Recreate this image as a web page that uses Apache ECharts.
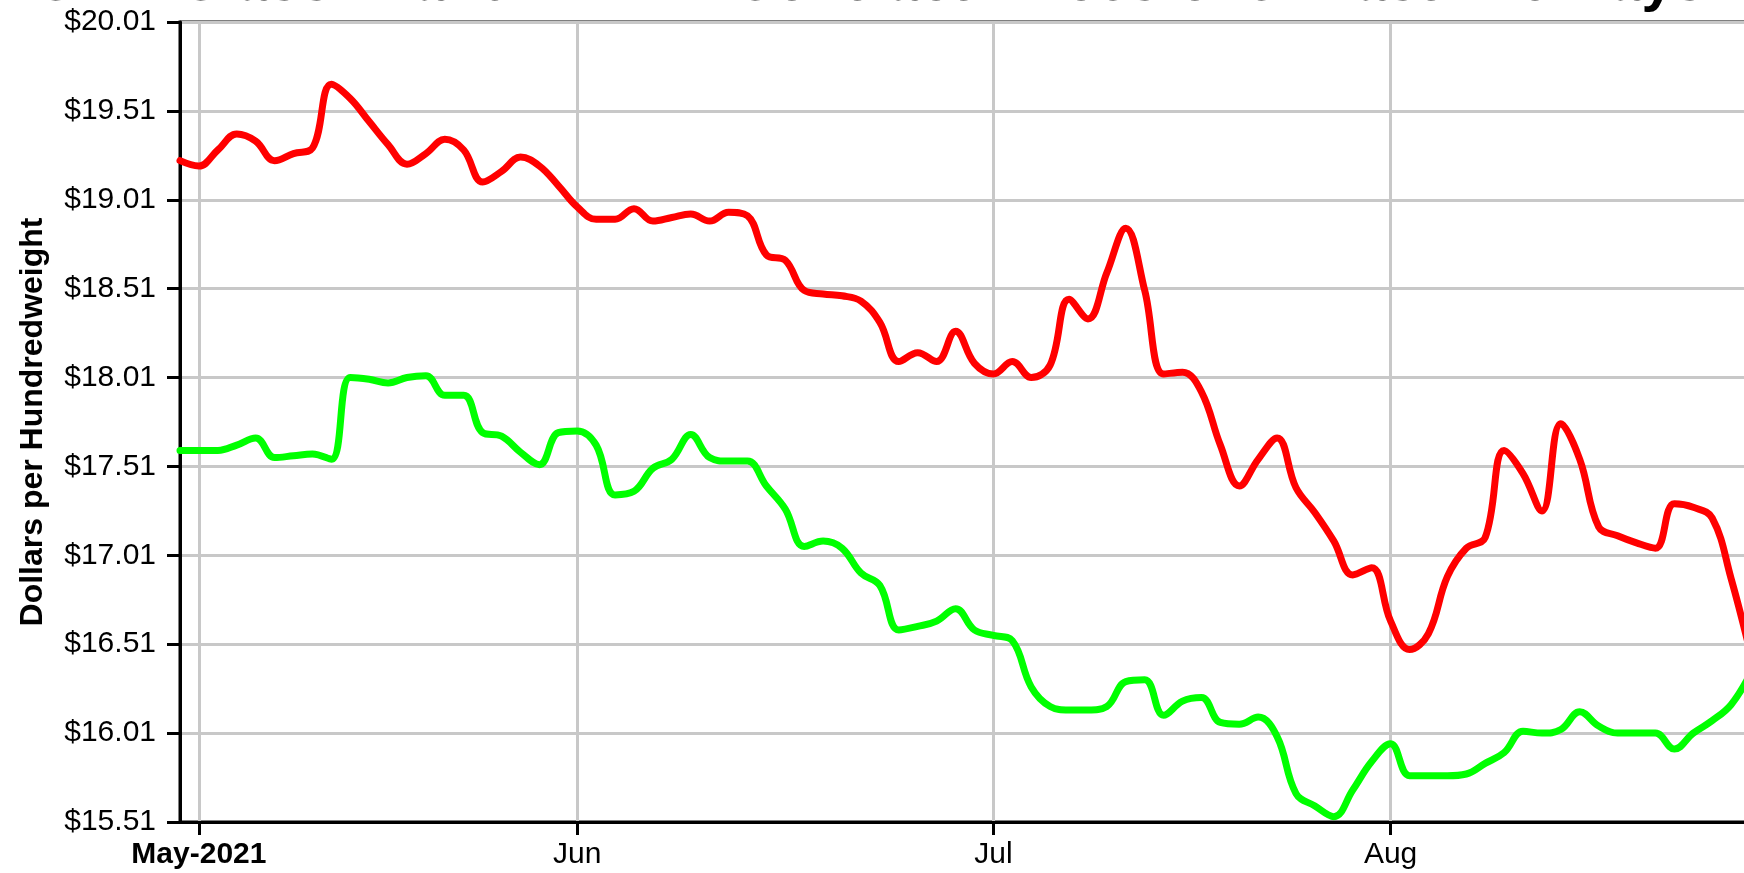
<!DOCTYPE html>
<html>
<head>
<meta charset="utf-8">
<title>Milk Contract Prices</title>
<script src="https://cdn.jsdelivr.net/npm/echarts@6/dist/echarts.min.js"></script>
<style>
	html,body{margin:0;padding:0;background:#fff;}
	#chart{width:1744px;height:873px;}
</style>
</head>
<body>
<div id="chart"></div>
<script>
// trading days shown on the axis (Apr 30 .. Aug 27, 2021)
var days = [
	'2021-04-30',
	'2021-05-03','2021-05-04','2021-05-05','2021-05-06','2021-05-07',
	'2021-05-10','2021-05-11','2021-05-12','2021-05-13','2021-05-14',
	'2021-05-17','2021-05-18','2021-05-19','2021-05-20','2021-05-21',
	'2021-05-24','2021-05-25','2021-05-26','2021-05-27','2021-05-28',
	'2021-06-01','2021-06-02','2021-06-03','2021-06-04',
	'2021-06-07','2021-06-08','2021-06-09','2021-06-10','2021-06-11',
	'2021-06-14','2021-06-15','2021-06-16','2021-06-17','2021-06-18',
	'2021-06-21','2021-06-22','2021-06-23','2021-06-24','2021-06-25',
	'2021-06-28','2021-06-29','2021-06-30',
	'2021-07-01','2021-07-02',
	'2021-07-06','2021-07-07','2021-07-08','2021-07-09',
	'2021-07-12','2021-07-13','2021-07-14','2021-07-15','2021-07-16',
	'2021-07-19','2021-07-20','2021-07-21','2021-07-22','2021-07-23',
	'2021-07-26','2021-07-27','2021-07-28','2021-07-29','2021-07-30',
	'2021-08-02','2021-08-03','2021-08-04','2021-08-05','2021-08-06',
	'2021-08-09','2021-08-10','2021-08-11','2021-08-12','2021-08-13',
	'2021-08-16','2021-08-17','2021-08-18','2021-08-19','2021-08-20',
	'2021-08-23','2021-08-24','2021-08-25','2021-08-26','2021-08-27'
];
// first trading day of each month -> label
var monthLabels = {
	'2021-05-03':'May-2021',
	'2021-06-01':'Jun',
	'2021-07-01':'Jul',
	'2021-08-02':'Aug'
};
var yTicks = ['$15.51','$16.01','$16.51','$17.01','$17.51','$18.01','$18.51','$19.01','$19.51','$20.01'];

var redPrices = [
	19.23,19.20,19.29,19.38,19.34,19.23,19.27,19.30,19.66,19.58,
	19.45,19.32,19.21,19.27,19.35,19.29,19.11,19.17,19.25,19.20,
	19.09,18.97,18.90,18.90,18.96,18.89,18.91,18.93,18.89,18.94,
	18.92,18.70,18.67,18.50,18.48,18.47,18.44,18.32,18.10,18.15,
	18.10,18.27,18.09,18.03,18.10,18.01,18.08,18.45,18.34,18.60,
	18.85,18.50,18.03,18.04,17.93,17.63,17.40,17.55,17.67,17.39,
	17.25,17.09,16.90,16.94,16.64,16.48,16.57,16.89,17.05,17.11,
	17.60,17.47,17.26,17.75,17.55,17.17,17.12,17.08,17.05,17.30,
	17.28,17.22,16.88,16.47
];
var greenPrices = [
	17.60,17.60,17.60,17.63,17.67,17.56,17.57,17.58,17.55,18.01,
	18.00,17.98,18.01,18.02,17.91,17.91,17.70,17.68,17.59,17.52,
	17.70,17.71,17.63,17.35,17.37,17.50,17.55,17.69,17.56,17.54,
	17.54,17.40,17.27,17.06,17.09,17.05,16.91,16.84,16.59,16.61,
	16.64,16.71,16.59,16.56,16.53,16.27,16.16,16.14,16.14,16.16,
	16.30,16.31,16.11,16.19,16.21,16.07,16.06,16.10,15.99,15.67,
	15.60,15.54,15.69,15.85,15.95,15.77,15.77,15.77,15.78,15.84,
	15.90,16.02,16.01,16.03,16.13,16.05,16.01,16.01,16.01,15.92,
	16.01,16.08,16.17,16.34
];

var fontName = '"Liberation Sans", Arial, sans-serif';
var isMonthStart = function (index, value) {
	return monthLabels[value] !== undefined;
};

var chart = echarts.init(document.getElementById('chart'), null, {renderer:'canvas'});
chart.setOption({
	animation: false,
	backgroundColor: '#fff',
	// the title sits mostly above the top edge of the picture
	title: {
		text: 'CME Class III and IV Milk Contract Prices over Past 120 Days',
		left: 28,
		top: -50,
		textStyle: {
			fontFamily: fontName,
			fontSize: 58,
			fontWeight: 'bold',
			color: '#000'
		}
	},
	// plot runs past the right edge of the picture, as in the source image
	grid: {
		left: 180,
		top: 22,
		width: 1570,
		height: 800,
		outerBoundsMode: 'none',
		containLabel: false,
		show: true,
		borderColor: '#000',
		borderWidth: 3
	},
	xAxis: {
		type: 'category',
		data: days,
		boundaryGap: false,
		axisLine: {lineStyle: {color: '#000', width: 3}},
		axisTick: {
			show: true,
			interval: isMonthStart,
			length: 13,
			lineStyle: {color: '#000', width: 3}
		},
		axisLabel: {
			interval: isMonthStart,
			margin: 18,
			fontFamily: fontName,
			fontSize: 30,
			color: '#000',
			formatter: function (value) {
				var text = monthLabels[value] || '';
				return text === 'May-2021' ? '{b|' + text + '}' : text;
			},
			rich: {
				b: {fontFamily: fontName, fontSize: 30, fontWeight: 'bold', color: '#000'}
			}
		},
		splitLine: {
			show: true,
			interval: isMonthStart,
			lineStyle: {color: '#c8c8c8', width: 3}
		}
	},
	yAxis: {
		type: 'value',
		min: 15.51,
		max: 20.01,
		interval: 0.5,
		name: 'Dollars per Hundredweight',
		nameLocation: 'middle',
		nameGap: 131,
		nameTextStyle: {
			fontFamily: fontName,
			fontSize: 32,
			fontWeight: 'bold',
			color: '#000'
		},
		axisLine: {show: true, lineStyle: {color: '#000', width: 3}},
		axisTick: {show: true, length: 13, lineStyle: {color: '#000', width: 3}},
		axisLabel: {
			margin: 24,
			fontFamily: fontName,
			fontSize: 30,
			color: '#000',
			formatter: function (value) {
				var idx = Math.round((value - 15.51) / 0.5);
				return yTicks[idx] !== undefined ? yTicks[idx] : '';
			}
		},
		splitLine: {lineStyle: {color: '#c8c8c8', width: 3}}
	},
	series: [
		{
			name: 'Class III',
			type: 'line',
			data: redPrices,
			smooth: 0.4,
			showSymbol: false,
			lineStyle: {color: '#ff0000', width: 7, cap: 'round', join: 'round'}
		},
		{
			name: 'Class IV',
			type: 'line',
			data: greenPrices,
			smooth: 0.4,
			showSymbol: false,
			lineStyle: {color: '#00ff00', width: 7, cap: 'round', join: 'round'}
		}
	]
});
</script>
</body>
</html>
